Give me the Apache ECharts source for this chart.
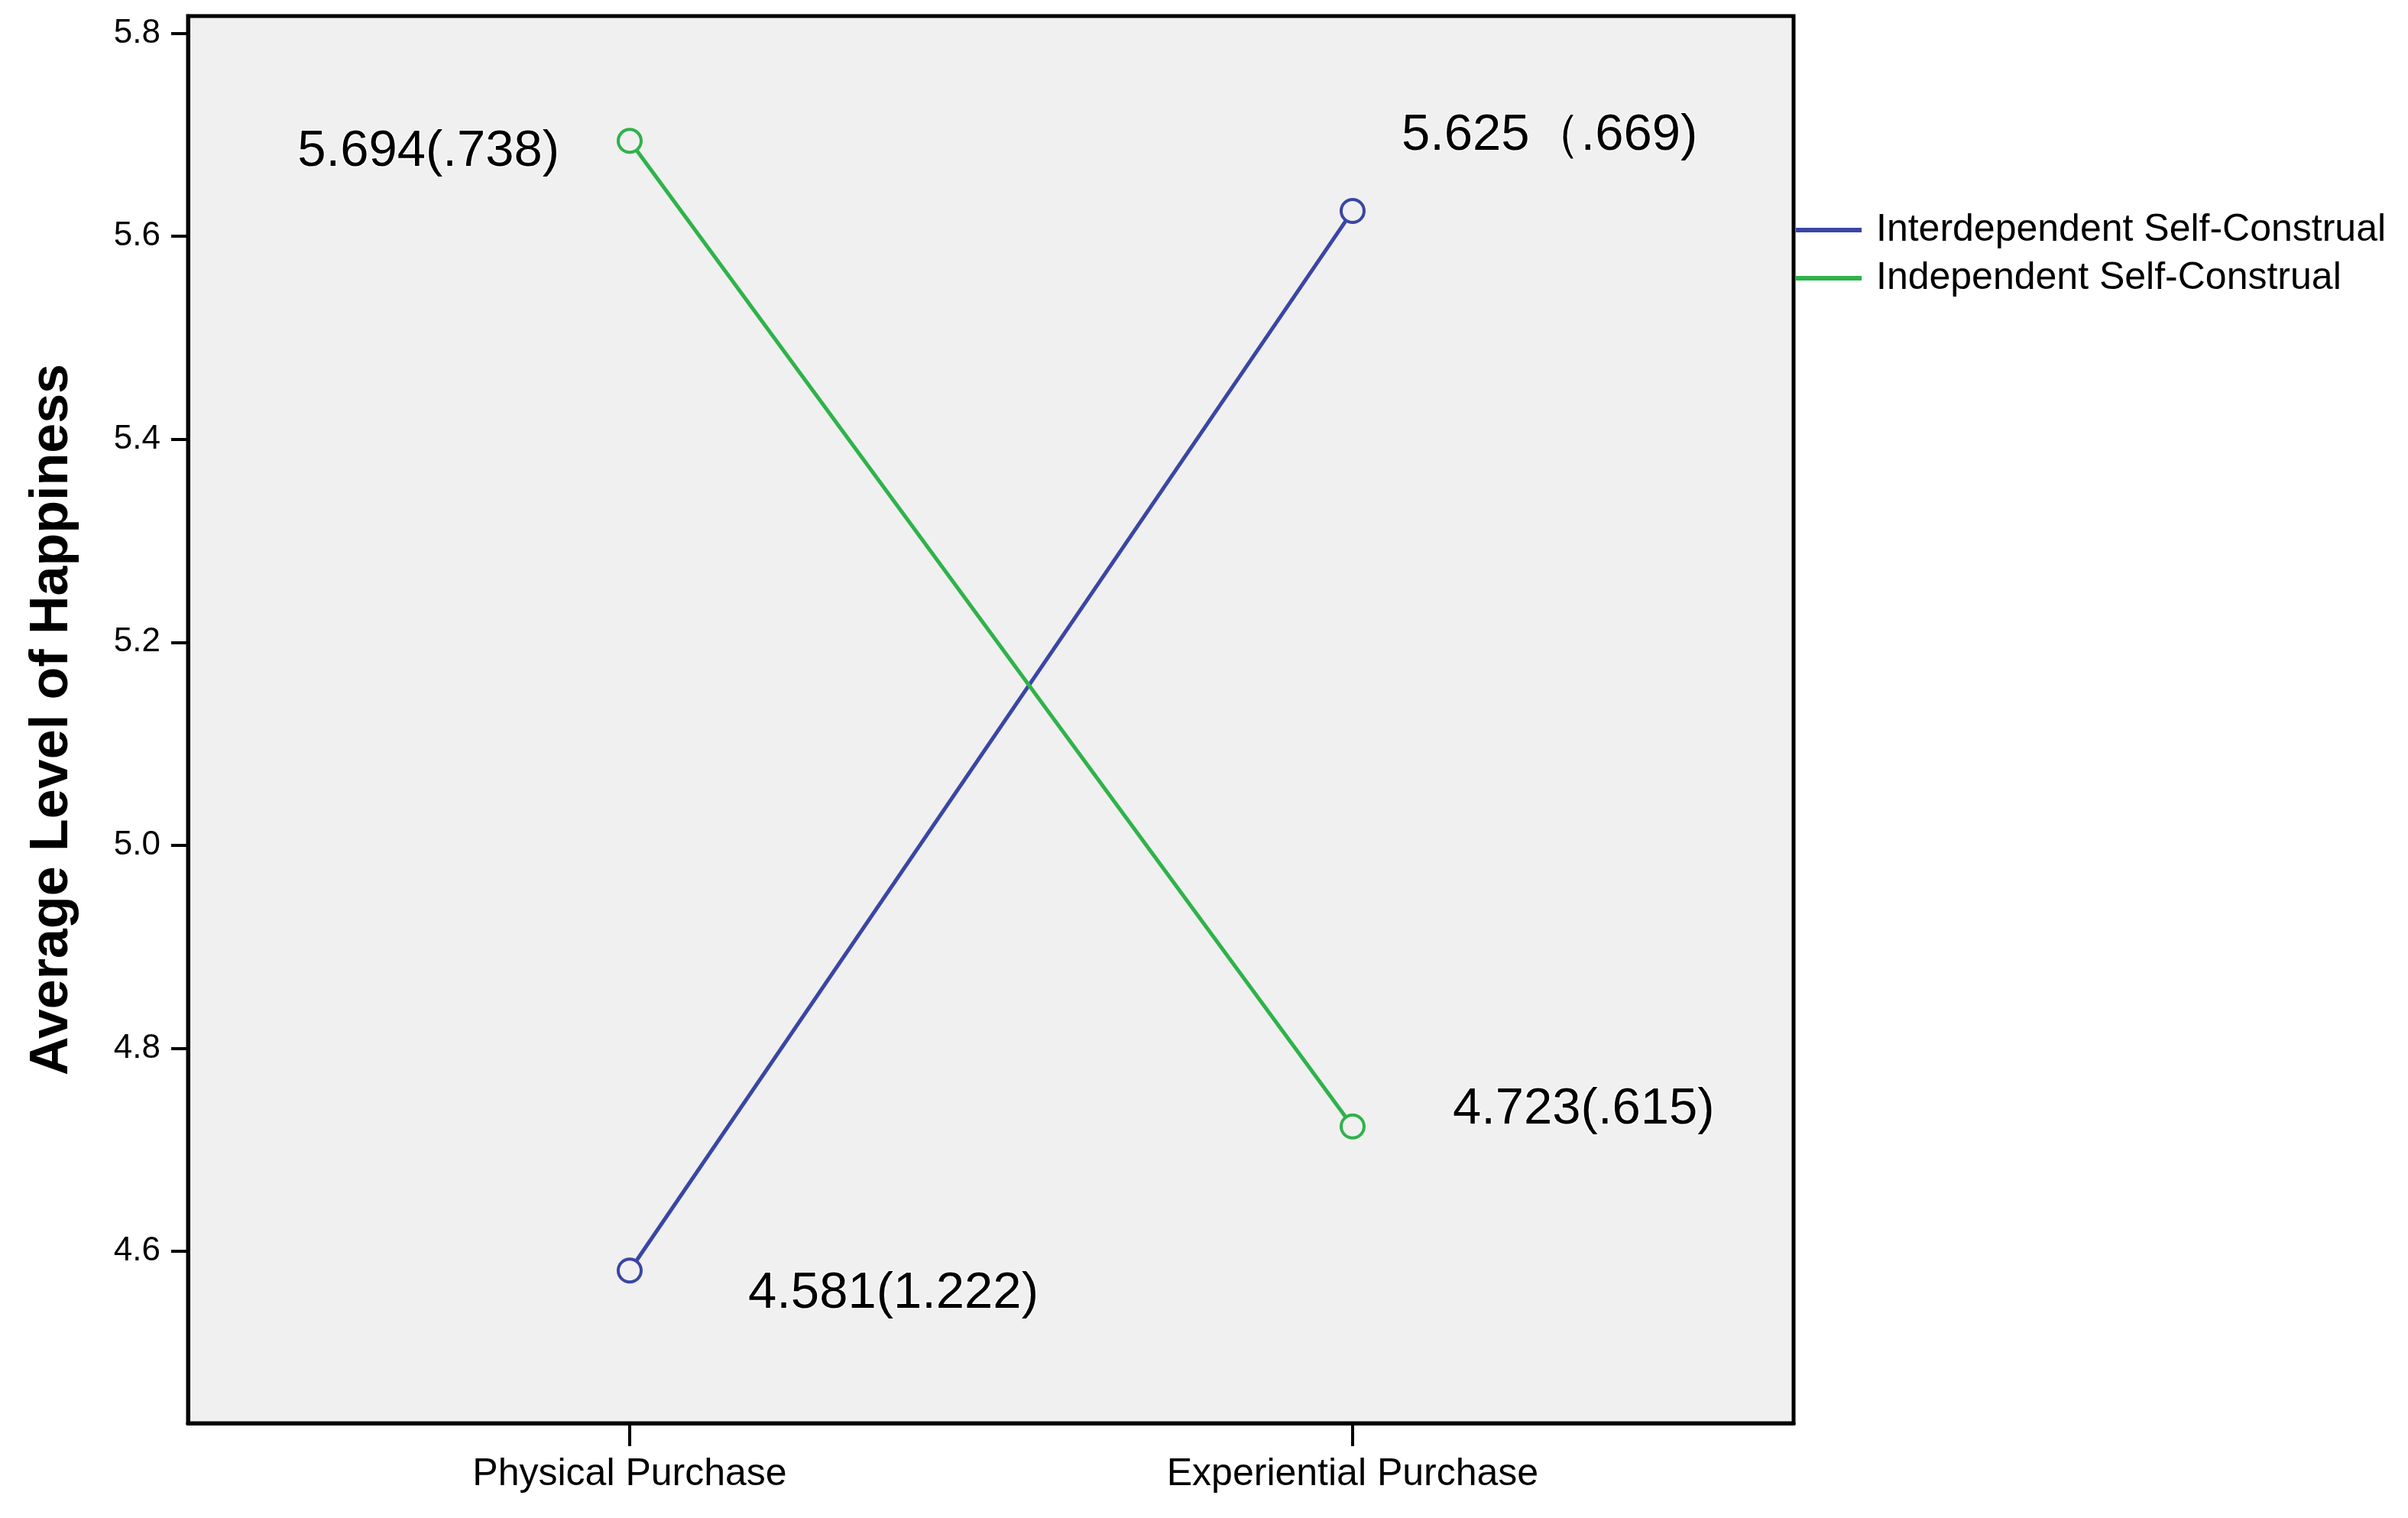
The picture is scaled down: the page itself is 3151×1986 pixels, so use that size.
<!DOCTYPE html>
<html>
<head>
<meta charset="utf-8">
<script src="https://cdn.jsdelivr.net/npm/echarts@6/dist/echarts.min.js"></script>
<style>html,body{margin:0;padding:0;background:#fff}#c{width:3151px;height:1986px}</style>
</head>
<body>
<div id="c"></div>
<script>
const categories = ['Physical Purchase', 'Experiential Purchase'];
const seriesNames = ['Interdependent Self-Construal', 'Independent Self-Construal'];
const interValues = [4.581, 5.625];
const indepValues = [5.694, 4.723];
const interLabels = ['4.581(1.222)', '5.625（.669)'];
const indepLabels = ['5.694(.738)', '4.723(.615)'];
const yTicks = [4.6, 4.8, 5.0, 5.2, 5.4, 5.6, 5.8];
const xTicks = [0, 1];

const BLUE = '#3a46a4';
const GREEN = '#2fb24a';
const FONT = 'Liberation Sans, Arial, sans-serif';

const labelBase = {
  show: true, color: '#000', fontFamily: FONT, fontSize: 67,
  textBorderColor: '#ffffff', textBorderWidth: 3
};
const interLabelStyle = [
  { position: 'right', distance: 138, offset: [0, 30] },
  { position: 'right', distance: 47, offset: [0, -98] }
];
const indepLabelStyle = [
  { position: 'left', distance: 75, offset: [0, 14] },
  { position: 'right', distance: 114, offset: [0, -22] }
];

function build(values, labels, styles) {
  return values.map((v, i) => ({
    value: [xTicks[i], v],
    label: Object.assign({}, labelBase, styles[i], { formatter: labels[i] })
  }));
}

const chart = echarts.init(document.getElementById('c'), null, { renderer: 'canvas' });
chart.setOption({
  backgroundColor: '#ffffff',
  animation: false,
  grid: {
    left: 246, right: 804, top: 21, bottom: 124,
    show: true, backgroundColor: '#f0f0f0', borderColor: '#000', borderWidth: 5
  },
  legend: {
    orient: 'vertical', left: 2350, top: 276, padding: 0,
    itemWidth: 86, itemHeight: 6, itemGap: 13, icon: 'rect',
    textStyle: { color: '#000', fontFamily: FONT, fontSize: 50, lineHeight: 50, padding: [0, 0, 0, 14] },
    data: [
      { name: seriesNames[0], itemStyle: { color: BLUE, borderWidth: 0 } },
      { name: seriesNames[1], itemStyle: { color: GREEN, borderWidth: 0 } }
    ]
  },
  xAxis: {
    type: 'value', min: -0.611, max: 1.61,
    axisLine: { show: true, onZero: false, lineStyle: { color: '#000', width: 5 } },
    axisTick: { show: true, customValues: xTicks, length: 30, lineStyle: { color: '#000', width: 4 } },
    axisLabel: {
      customValues: xTicks, margin: 42, color: '#000', fontFamily: FONT, fontSize: 50,
      formatter: v => categories[Math.round(v)]
    },
    splitLine: { show: false }
  },
  yAxis: {
    type: 'value', min: 4.4306, max: 5.817,
    name: 'Average Level of Happiness', nameLocation: 'middle', nameGap: 142,
    nameTextStyle: { color: '#000', fontFamily: FONT, fontSize: 70, fontWeight: 'bold' },
    axisLine: { show: true, onZero: false, lineStyle: { color: '#000', width: 5 } },
    axisTick: { show: true, customValues: yTicks, length: 22, lineStyle: { color: '#000', width: 4 } },
    axisLabel: {
      customValues: yTicks, margin: 36, color: '#000', fontFamily: FONT, fontSize: 44,
      formatter: v => v.toFixed(1)
    },
    splitLine: { show: false }
  },
  series: [
    {
      name: seriesNames[0], type: 'line', symbol: 'circle', symbolSize: 30,
      itemStyle: { color: '#f0f0f0', borderColor: BLUE, borderWidth: 4 },
      lineStyle: { color: BLUE, width: 5 },
      data: build(interValues, interLabels, interLabelStyle)
    },
    {
      name: seriesNames[1], type: 'line', symbol: 'circle', symbolSize: 30,
      itemStyle: { color: '#f0f0f0', borderColor: GREEN, borderWidth: 4 },
      lineStyle: { color: GREEN, width: 5 },
      data: build(indepValues, indepLabels, indepLabelStyle)
    }
  ]
});
</script>
</body>
</html>
